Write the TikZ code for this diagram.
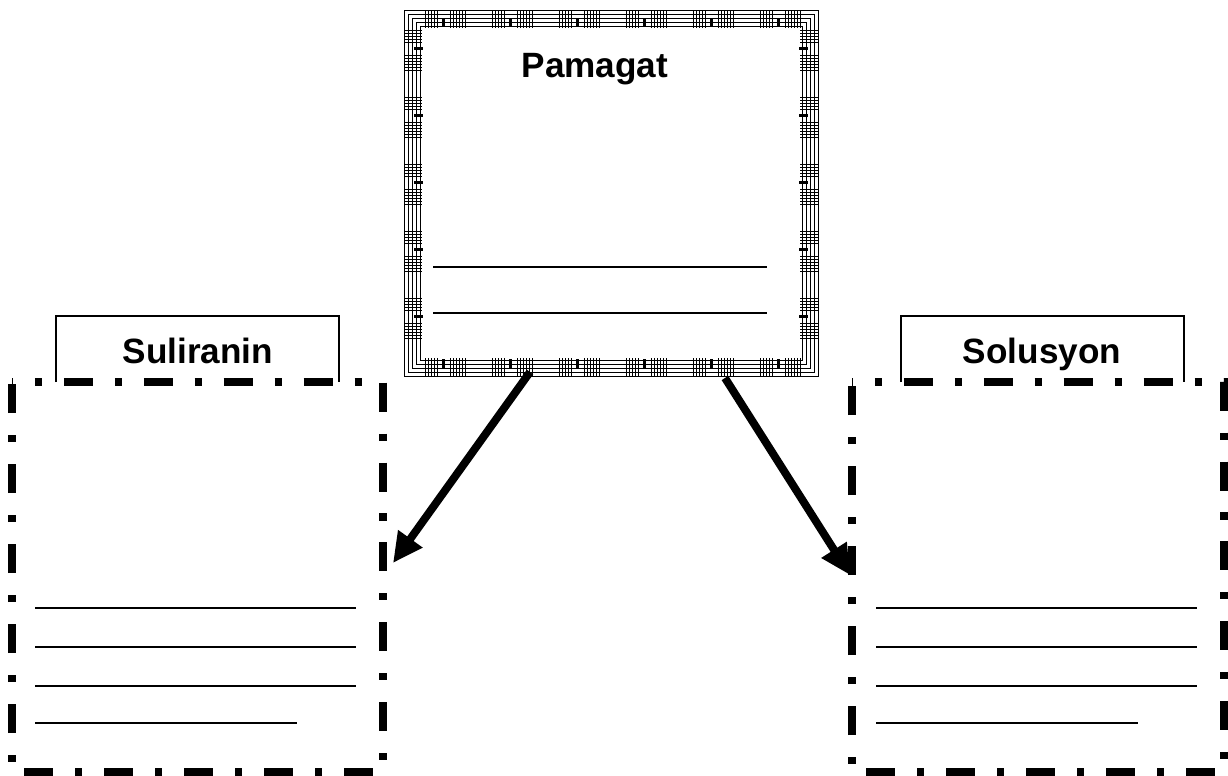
\documentclass[tikz,border=0pt]{standalone}
\usepackage{fontspec}
\setmainfont{Liberation Sans}
\usetikzlibrary{arrows.meta}

\begin{document}
\begin{tikzpicture}[x=0.02cm,y=-0.02cm,
  dashbox/.style={line width=4pt,dash pattern=on 16.5pt off 12.5pt on 4pt off 12.5pt,dash phase=16pt},
  blank/.style={line width=0.85pt},
  labelbox/.style={line width=0.9pt},
  fancy/.style={line width=0.55pt},
  title/.style={font=\bfseries\fontsize{20}{24}\selectfont,anchor=base},
  arrowline/.style={line width=4.5pt,-{Triangle[length=17pt,width=16pt]}}]
  \useasboundingbox (0,0) rectangle (1228,775);

  % title box with the fancy border
  \foreach \i in {0,4,...,16}
    \draw[fancy] (404+\i,10+\i) rectangle (818-\i,376-\i);
  \foreach \x in {425,492,559,626,693,760} {
    \foreach \k in {0,3,...,12,25,28,...,40} {
      \draw[fancy] (\x+\k,10) -- (\x+\k,28);
      \draw[fancy] (\x+\k,358) -- (\x+\k,376);
    }
    \fill (\x+17,18) rectangle (\x+20,27);
    \fill (\x+17,359) rectangle (\x+20,368);
  }
  \foreach \y in {30,97,164,231,298} {
    \foreach \k in {0,3,...,12,25,28,...,40} {
      \draw[fancy] (404,\y+\k) -- (422,\y+\k);
      \draw[fancy] (800,\y+\k) -- (818,\y+\k);
    }
    \fill (414,\y+17) rectangle (423,\y+20);
    \fill (799,\y+17) rectangle (808,\y+20);
  }
  \node[title] (pamagat) at (595,77) {Pamagat};
  \draw[blank] (433,267) -- (767,267);
  \draw[blank] (433,313) -- (767,313);

  % problem box
  \draw[labelbox] (56,382) |- (339,316) -- (339,382);
  \node[title] (suliranin) at (198,363) {Suliranin};
  \draw[dashbox] (12,382) -- (383,382) -- (383,772) -- (12,772) -- cycle;
  \foreach \y in {608,647,686}
    \draw[blank] (35,\y) -- (356,\y);
  \draw[blank] (35,723) -- (297,723);

  % solution box
  \draw[labelbox] (901,382) |- (1184,316) -- (1184,382);
  \node[title] (solusyon) at (1042,363) {Solusyon};
  \draw[dashbox] (852,382) -- (1224,382) -- (1224,772) -- (852,772) -- cycle;
  \foreach \y in {608,647,686}
    \draw[blank] (876,\y) -- (1197,\y);
  \draw[blank] (876,723) -- (1138,723);

  % arrows
  \coordinate (pamagatL) at (530,372);
  \coordinate (pamagatR) at (725,378);
  \coordinate (suliraninIn) at (393,563);
  \coordinate (solusyonIn) at (850,575);
  \draw[arrowline] (pamagatL) -- (suliraninIn);
  \draw[arrowline] (pamagatR) -- (solusyonIn);
\end{tikzpicture}
\end{document}
